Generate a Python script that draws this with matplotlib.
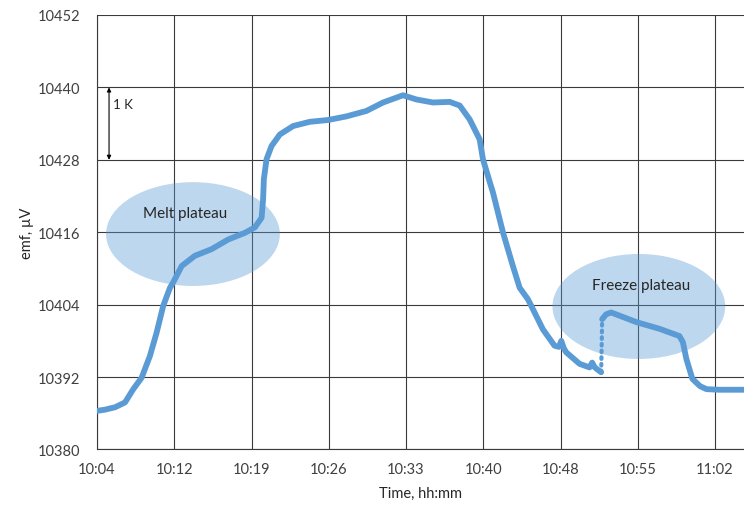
import numpy as np
import matplotlib.pyplot as plt
from matplotlib.patches import Ellipse

plt.rcParams['font.family'] = ['Lato', 'DejaVu Sans']

# time in minutes after 10:04, emf in microvolts
# melt + cooling part, up to the supercooling minimum
melt_min = [0.0, 0.74, 1.68, 2.61, 3.38, 4.16, 4.93, 5.56, 6.17, 6.80, 7.10, 7.89,
            9.12, 10.68, 12.23, 13.78, 14.71, 15.34, 15.48, 15.55, 15.8, 16.27,
            17.04, 18.28, 19.83, 21.54, 23.25, 25.11, 26.66, 28.52, 29.77, 31.31,
            32.87, 33.8, 34.73, 35.04, 35.66, 35.97, 36.59, 36.9, 37.83, 38.76,
            39.39, 40.16, 40.78, 41.56, 42.64, 43.05, 43.27, 43.5, 43.73, 44.97,
            45.9, 46.15, 46.35, 46.53, 46.99]
melt_emf = [10386.4, 10386.6, 10387.0, 10387.8, 10390.0, 10391.9, 10395.5, 10399.4,
            10403.8, 10406.8, 10407.7, 10410.4, 10412.1, 10413.2, 10414.8, 10415.9,
            10416.8, 10418.4, 10421.5, 10424.8, 10428.1, 10430.3, 10432.2, 10433.6,
            10434.3, 10434.6, 10435.2, 10436.1, 10437.5, 10438.7, 10438.0, 10437.5,
            10437.6, 10437.0, 10434.7, 10433.6, 10431.4, 10428.1, 10424.4, 10422.6,
            10416.0, 10410.4, 10406.8, 10404.9, 10402.7, 10399.9, 10397.2, 10397.0,
            10398.0, 10396.8, 10396.1, 10394.2, 10393.6, 10394.4, 10393.7, 10393.4,
            10392.8]
# recalescence jump
jump_min = [46.99, 47.08]
jump_emf = [10392.8, 10401.6]
# freeze plateau and after
freeze_min = [47.08, 47.45, 47.92, 50.28, 52.42, 54.28, 54.6, 54.93, 55.49, 56.2,
              56.8, 58.0, 60.3]
freeze_emf = [10401.6, 10402.4, 10402.7, 10401.1, 10400.0, 10398.8, 10397.8, 10395.0,
              10391.7, 10390.5, 10390.0, 10389.9, 10389.9]

tick_pos = [0, 7.2, 14.4, 21.6, 28.8, 36.0, 43.2, 50.4, 57.6]
tick_labels = ['10:04', '10:12', '10:19', '10:26', '10:33', '10:40', '10:48', '10:55', '11:02']
y_ticks = [10380, 10392, 10404, 10416, 10428, 10440, 10452]

blue = '#5B9BD5'

fig = plt.figure(figsize=(7.44, 5.06), dpi=100)
ax = fig.add_axes([0.1304, 0.1097, 0.8696, 0.8587])

# highlighted plateaus
ax.add_patch(Ellipse((8.94, 10415.7), 16.2, 17.2, facecolor=blue, alpha=0.4,
                     edgecolor='none', zorder=1))
ax.add_patch(Ellipse((50.5, 10403.7), 16.1, 17.4, facecolor=blue, alpha=0.4,
                     edgecolor='none', zorder=1))

ax.plot(melt_min, melt_emf, color=blue, lw=4.2, solid_capstyle='round',
        solid_joinstyle='round', zorder=3)
ax.plot(jump_min, jump_emf, color=blue, lw=3.0, ls=(0, (0.4, 1.2)),
        dash_capstyle='round', zorder=3)
ax.plot(freeze_min, freeze_emf, color=blue, lw=4.2, solid_capstyle='round',
        solid_joinstyle='round', zorder=3)

ax.set_xlim(0, 60.3)
ax.set_ylim(10380, 10452)
ax.set_xticks(tick_pos)
ax.set_xticklabels(tick_labels)
ax.set_yticks(y_ticks)
ax.tick_params(axis='both', length=0, labelsize=10.5, colors='#404040')
ax.tick_params(axis='y', pad=12)
ax.tick_params(axis='x', pad=9)
ax.grid(True, color='#3a3a3a', lw=0.8, zorder=0)
ax.set_axisbelow(True)
for s in ['top', 'right']:
    ax.spines[s].set_visible(False)
for s in ['left', 'bottom']:
    ax.spines[s].set_color('#3a3a3a')
    ax.spines[s].set_linewidth(0.8)

ax.set_xlabel('Time, hh:mm', fontsize=10.5, color='#262626', labelpad=7)
ax.set_ylabel('emf, µV', fontsize=10.5, color='#262626', labelpad=3)

# 1 K scale arrow
ax.annotate('', xy=(1.12, 10428), xytext=(1.12, 10440),
            arrowprops=dict(arrowstyle='<|-|>', color='black', lw=0.8,
                            mutation_scale=6, shrinkA=0, shrinkB=0))
ax.text(1.5, 10437.2, '1 K', fontsize=9.5, color='#262626', va='center')

ax.text(8.2, 10419.2, 'Melt plateau', fontsize=11, color='#262626',
        ha='center', va='center', zorder=4)
ax.text(50.7, 10407.3, 'Freeze plateau', fontsize=11, color='#262626',
        ha='center', va='center', zorder=4)

fig.savefig('out.png', dpi=100)
